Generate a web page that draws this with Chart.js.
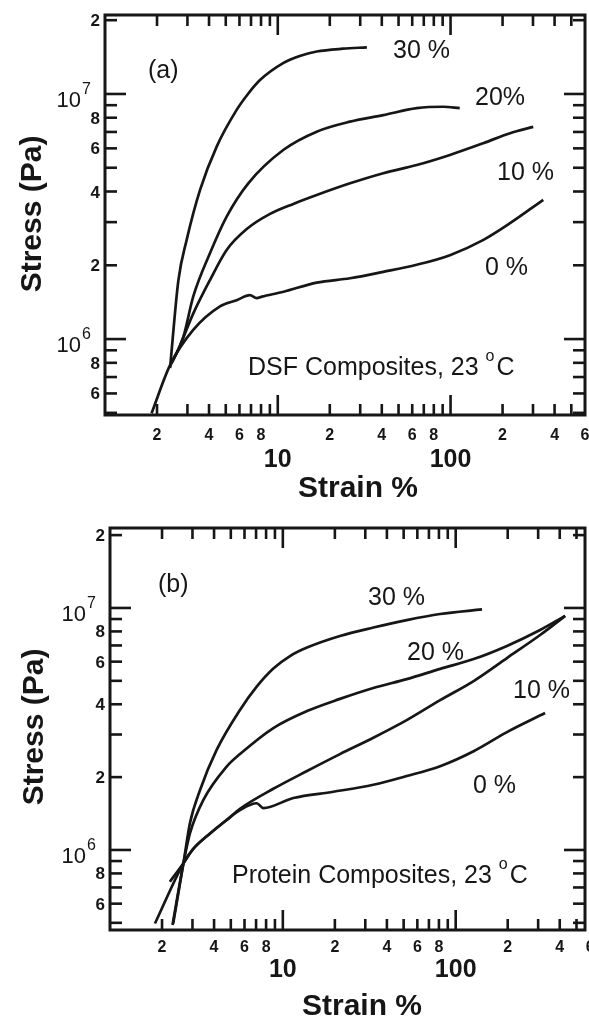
<!DOCTYPE html>
<html>
<head>
<meta charset="utf-8">
<script src="https://cdn.jsdelivr.net/npm/chart.js@4/dist/chart.umd.min.js"></script>
<style>
  html, body { margin: 0; padding: 0; background: #fff; }
  #wrap { position: relative; width: 589px; height: 1018px; overflow: hidden; }
  canvas { position: absolute; left: 0; }
</style>
</head>
<body>
<div id="wrap">
  <canvas id="chart-dsf" width="589" height="505" style="top:0"></canvas>
  <canvas id="chart-protein" width="589" height="513" style="top:505px"></canvas>
</div>
<script>
// (a) DSF composites: strain (%) vs stress (Pa)
const dsfStrain0  = [1.86, 2.38, 3.24, 4.63, 5.78, 6.90, 7.55, 8.11, 10.8, 16.8, 26.2, 40.8, 63.7, 99.2, 155, 221, 344];
const dsfStress0  = [4.98e5, 7.83e5, 1.09e6, 1.36e6, 1.44e6, 1.51e6, 1.47e6, 1.49e6, 1.56e6, 1.70e6, 1.77e6, 1.88e6, 2.01e6, 2.20e6, 2.54e6, 2.97e6, 3.70e6];
const dsfStrain10 = [2.38, 2.60, 3.24, 4.05, 5.06, 6.61, 9.02, 12.3, 16.8, 26.2, 40.8, 63.7, 99.2, 155, 221, 301];
const dsfStress10 = [7.76e5, 8.75e5, 1.27e6, 1.74e6, 2.31e6, 2.81e6, 3.24e6, 3.56e6, 3.87e6, 4.32e6, 4.75e6, 5.13e6, 5.64e6, 6.30e6, 6.92e6, 7.34e6];
const dsfStrain20 = [2.44, 2.84, 3.24, 4.05, 5.06, 6.75, 10.8, 16.8, 26.2, 40.8, 63.7, 90.7, 113];
const dsfStress20 = [8.05e5, 1.02e6, 1.49e6, 2.24e6, 3.16e6, 4.32e6, 5.92e6, 7.02e6, 7.71e6, 8.20e6, 8.75e6, 8.87e6, 8.75e6];
const dsfStrain30 = [2.38, 2.66, 2.97, 3.55, 4.43, 5.78, 6.72, 7.89, 10.8, 13.4, 16.8, 23.8, 32.8];
const dsfStress30 = [7.62e5, 1.74e6, 2.54e6, 4.06e6, 6.10e6, 8.61e6, 1.00e7, 1.14e7, 1.34e7, 1.43e7, 1.49e7, 1.53e7, 1.55e7];

// (b) protein composites
const proStrain0  = [1.82, 2.66, 3.03, 3.79, 4.73, 5.65, 7.06, 7.71, 11.5, 19.6, 33.4, 52.1, 81.3, 127, 198, 329];
const proStress0  = [4.97e5, 8.81e5, 1.01e6, 1.17e6, 1.33e6, 1.46e6, 1.56e6, 1.49e6, 1.64e6, 1.74e6, 1.86e6, 2.02e6, 2.22e6, 2.56e6, 3.07e6, 3.68e6];
const proStrain10 = [2.22, 2.66, 3.03, 3.79, 4.73, 5.65, 8.81, 13.8, 21.4, 33.4, 52.1, 81.3, 127, 198, 308, 430];
const proStress10 = [7.39e5, 8.81e5, 1.01e6, 1.17e6, 1.33e6, 1.48e6, 1.79e6, 2.12e6, 2.49e6, 2.91e6, 3.44e6, 4.16e6, 4.99e6, 6.21e6, 7.73e6, 9.27e6];
const proStrain20 = [2.30, 2.66, 2.90, 3.47, 4.73, 5.65, 8.81, 13.8, 21.4, 33.4, 52.1, 81.3, 127, 198, 308, 430];
const proStress20 = [4.9e5, 8.81e5, 1.17e6, 1.61e6, 2.21e6, 2.49e6, 3.19e6, 3.75e6, 4.21e6, 4.67e6, 5.08e6, 5.60e6, 6.15e6, 6.97e6, 8.11e6, 9.27e6];
const proStrain30 = [2.32, 2.66, 2.90, 3.32, 4.14, 5.65, 7.06, 8.81, 11.0, 13.8, 21.4, 33.4, 52.1, 81.3, 142];
const proStress30 = [4.97e5, 8.81e5, 1.29e6, 1.77e6, 2.59e6, 3.79e6, 4.73e6, 5.62e6, 6.33e6, 6.86e6, 7.66e6, 8.30e6, 8.91e6, 9.44e6, 9.86e6];

// tick marks and labels of the log axes
const strainTicks  = [2, 3, 4, 5, 6, 7, 8, 9, 10, 20, 30, 40, 50, 60, 70, 80, 90, 100, 200, 300, 400, 500, 600];
const strainMajor  = [10, 100];
const strainLabels = [2, 4, 6, 8, 10, 20, 40, 60, 80, 100, 200, 400, 600];
const stressTicks  = [5e5, 6e5, 7e5, 8e5, 9e5, 1e6, 2e6, 3e6, 4e6, 5e6, 6e6, 7e6, 8e6, 9e6, 1e7, 2e7];
const stressMajor  = [1e6, 1e7];
const stressLabels = [6e5, 8e5, 1e6, 2e6, 4e6, 6e6, 8e6, 1e7, 2e7];

const ink = '#161616';
const face = '"Liberation Sans", Arial, Helvetica, sans-serif';

function leadDigit(v) {
  return String(Math.round(v / Math.pow(10, Math.floor(Math.log10(v) + 1e-9))));
}

// frame, inward ticks on all four sides, tick labels, titles and curve notes
const logAxes = {
  id: 'logAxes',
  afterDraw(chart, args, opts) {
    const { ctx, chartArea: a, scales: { x, y } } = chart;
    const seg = (x1, y1, x2, y2) => { ctx.beginPath(); ctx.moveTo(x1, y1); ctx.lineTo(x2, y2); ctx.stroke(); };
    ctx.save();
    ctx.strokeStyle = ink;
    ctx.fillStyle = ink;
    ctx.lineWidth = 2.6;

    strainTicks.forEach(v => {
      if (v <= x.min || v >= x.max) return;
      const px = x.getPixelForValue(v);
      const len = strainMajor.includes(v) ? 20 : 11;
      seg(px, a.bottom, px, a.bottom - len);
      seg(px, a.top, px, a.top + len);
    });
    stressTicks.forEach(v => {
      if (v <= y.min || v >= y.max) return;
      const py = y.getPixelForValue(v);
      const len = stressMajor.includes(v) ? 21 : 12;
      seg(a.left, py, a.left + len, py);
      seg(a.right, py, a.right - len, py);
    });
    ctx.lineWidth = 3;
    ctx.strokeRect(a.left, a.top, a.right - a.left, a.bottom - a.top);

    // strain tick labels
    ctx.textAlign = 'center';
    ctx.textBaseline = 'alphabetic';
    strainLabels.forEach(v => {
      const px = x.getPixelForValue(v);
      if (strainMajor.includes(v)) {
        ctx.font = 'bold 25px ' + face;
        ctx.fillText(String(v), px, a.bottom + opts.majorDrop);
      } else {
        ctx.font = 'bold 16px ' + face;
        ctx.fillText(leadDigit(v), px, a.bottom + opts.minorDrop);
      }
    });

    // stress tick labels
    stressLabels.forEach(v => {
      const py = y.getPixelForValue(v);
      if (stressMajor.includes(v)) {
        ctx.textAlign = 'right';
        ctx.font = '22px ' + face;
        ctx.fillText('10', a.left - 24, py + 13);
        ctx.textAlign = 'left';
        ctx.font = '16px ' + face;
        ctx.fillText(String(Math.round(Math.log10(v))), a.left - 23, py);
      } else {
        ctx.textAlign = 'right';
        ctx.font = 'bold 17px ' + face;
        ctx.fillText(leadDigit(v), a.left - 5, py + 6);
      }
    });

    // axis titles
    ctx.font = 'bold 30px ' + face;
    ctx.textAlign = 'center';
    ctx.fillText('Strain %', opts.strainTitle[0], opts.strainTitle[1]);
    ctx.save();
    ctx.translate(opts.stressTitle[0], opts.stressTitle[1]);
    ctx.rotate(-Math.PI / 2);
    ctx.fillText('Stress (Pa)', 0, 0);
    ctx.restore();

    // notes beside the curves
    ctx.textAlign = 'left';
    opts.notes.forEach(n => {
      ctx.font = '25px ' + face;
      ctx.fillText(n.text, n.x, n.y);
      if (n.degC) {
        let cx = n.x + ctx.measureText(n.text).width;
        ctx.font = '16px ' + face;
        ctx.fillText('o', cx, n.y - 14);
        cx += ctx.measureText('o').width + 2;
        ctx.font = '25px ' + face;
        ctx.fillText('C', cx, n.y);
      }
    });
    ctx.restore();
  }
};

function curve(strain, stress) {
  return strain.map((s, i) => ({ x: s, y: stress[i] }));
}

function makeChart(id, series, frame, axisOpts) {
  return new Chart(document.getElementById(id), {
    type: 'line',
    data: {
      datasets: series.map(([strain, stress]) => ({
        data: curve(strain, stress),
        borderColor: ink,
        borderWidth: 2.7,
        pointRadius: 0,
        fill: false,
        cubicInterpolationMode: 'monotone'
      }))
    },
    options: {
      responsive: false,
      animation: false,
      events: [],
      layout: { padding: frame.pad },
      plugins: {
        legend: { display: false },
        tooltip: { enabled: false },
        logAxes: axisOpts
      },
      scales: {
        x: { type: 'logarithmic', display: false, bounds: 'data', min: frame.x[0], max: frame.x[1] },
        y: { type: 'logarithmic', display: false, bounds: 'data', min: frame.y[0], max: frame.y[1] }
      }
    },
    plugins: [logAxes]
  });
}

makeChart('chart-dsf',
  [[dsfStrain0, dsfStress0], [dsfStrain10, dsfStress10], [dsfStrain20, dsfStress20], [dsfStrain30, dsfStress30]],
  { pad: { left: 105, right: 4, top: 15, bottom: 90 }, x: [1, 600], y: [4.9e5, 2.1e7] },
  {
    minorDrop: 25, majorDrop: 52,
    strainTitle: [358, 497], stressTitle: [41, 214],
    notes: [
      { text: '(a)', x: 148, y: 78 },
      { text: '30 %', x: 393, y: 58 },
      { text: '20%', x: 475, y: 105 },
      { text: '10 %', x: 497, y: 180 },
      { text: '0 %', x: 485, y: 275 },
      { text: 'DSF Composites, 23 ', x: 248, y: 375, degC: true }
    ]
  });

makeChart('chart-protein',
  [[proStrain0, proStress0], [proStrain10, proStress10], [proStrain20, proStress20], [proStrain30, proStress30]],
  { pad: { left: 110, right: 4, top: 23, bottom: 88 }, x: [1, 560], y: [4.67e5, 2.14e7] },
  {
    minorDrop: 22, majorDrop: 47,
    strainTitle: [362, 510], stressTitle: [43, 222],
    notes: [
      { text: '(b)', x: 158, y: 87 },
      { text: '30 %', x: 368, y: 100 },
      { text: '20 %', x: 407, y: 155 },
      { text: '10 %', x: 513, y: 193 },
      { text: '0 %', x: 473, y: 288 },
      { text: 'Protein Composites, 23 ', x: 232, y: 378, degC: true }
    ]
  });
</script>
</body>
</html>
